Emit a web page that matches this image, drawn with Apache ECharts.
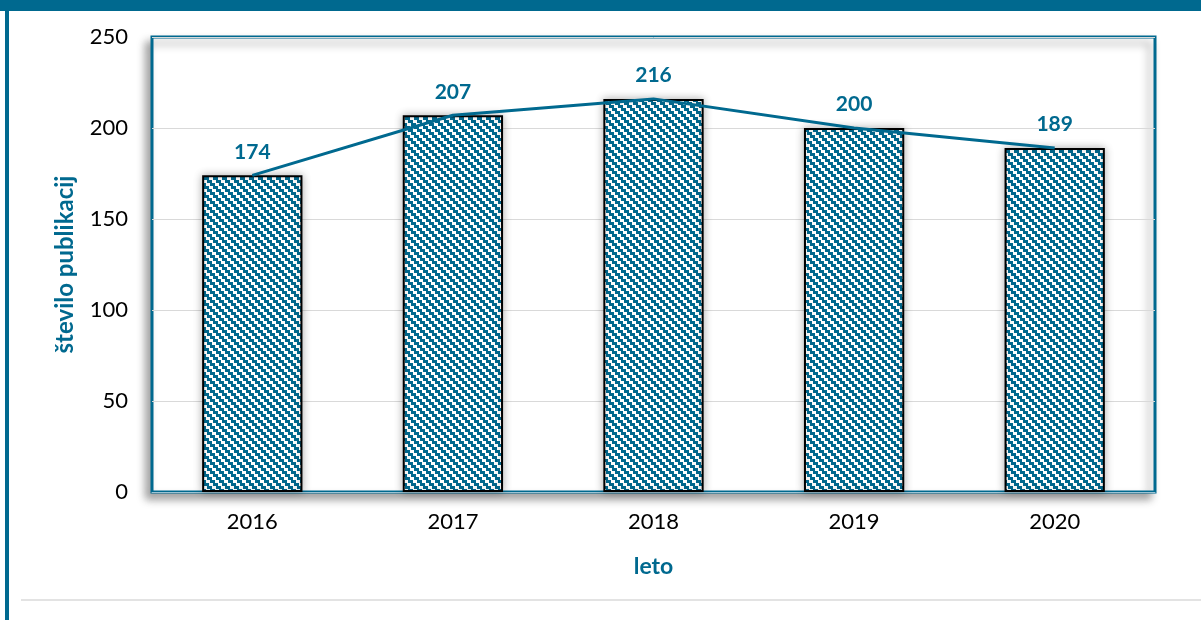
<!DOCTYPE html>
<html><head><meta charset="utf-8">
<script src="https://cdn.jsdelivr.net/npm/echarts@6/dist/echarts.min.js"></script>
<style>html,body{margin:0;padding:0;background:#fff}#c{width:1201px;height:620px}</style>
</head><body><div id="c"></div>
<script>
const categories = ['2016','2017','2018','2019','2020'];
const values = [174, 207, 216, 200, 189];
const yTicks = [0, 50, 100, 150, 200, 250];
const TEAL = '#00698f';

const P = 9, S = 3, H = 3, W = 5;
const pc = document.createElement('canvas');
pc.width = P; pc.height = P;
const g = pc.getContext('2d');
g.fillStyle = '#fff'; g.fillRect(0,0,P,P);
g.fillStyle = TEAL;
for (let y = 0; y < P; y++) {
  const off = S * Math.floor(y / H);
  for (let x = 0; x < P; x++) {
    if ((((x - off) % P) + P) % P < W) g.fillRect(x, y, 1, 1);
  }
}

const chart = echarts.init(document.getElementById('c'));
const font = 'Lato, "Open Sans", sans-serif';
chart.setOption({
  animation: false,
  backgroundColor: '#fff',
  textStyle: { fontFamily: font },
  graphic: [
    { type: 'rect', shape: { x: 0, y: 0, width: 1201, height: 11 }, style: { fill: TEAL }, z: 10 },
    { type: 'rect', shape: { x: 5, y: 0, width: 4, height: 620 }, style: { fill: TEAL }, z: 10 },
    { type: 'rect', shape: { x: 21, y: 599, width: 1180, height: 2 }, style: { fill: '#e3e3e3' }, z: 10 }
  ],
  grid: {
    left: 152, right: 46, top: 37, bottom: 128,
    show: true, backgroundColor: '#fff', borderColor: TEAL, borderWidth: 3,
    shadowColor: 'rgba(0,0,0,0.35)', shadowBlur: 8, shadowOffsetX: -5, shadowOffsetY: 6
  },
  xAxis: {
    type: 'category', data: categories,
    name: 'leto', nameLocation: 'middle', nameGap: 63,
    nameTextStyle: { color: TEAL, fontWeight: 'bold', fontSize: 23, fontFamily: font },
    axisLine: { show: true, lineStyle: { color: '#9cc3d3', width: 1 } },
    axisTick: { show: false },
    axisLabel: { color: '#000', fontSize: 22, margin: 19, fontFamily: font }
  },
  yAxis: {
    type: 'value', min: yTicks[0], max: yTicks[yTicks.length - 1], interval: 50,
    name: 'število publikacij', nameLocation: 'middle', nameGap: 75, nameRotate: 90,
    nameTextStyle: { color: TEAL, fontWeight: 'bold', fontSize: 24, fontFamily: font },
    axisLine: { show: false }, axisTick: { show: false },
    axisLabel: { color: '#000', fontSize: 22, margin: 24, fontFamily: font },
    splitLine: { show: true, lineStyle: { color: '#d9d9d9', width: 1 } }
  },
  series: [
    {
      type: 'bar', data: values, barWidth: '50%',
      itemStyle: {
        color: { image: pc, repeat: 'repeat' },
        borderColor: '#000', borderWidth: 2,
        shadowColor: 'rgba(0,0,0,0.3)', shadowBlur: 8
      },
      label: { show: true, position: 'top', distance: 13, color: TEAL, fontWeight: 'bold', fontSize: 21, fontFamily: font }
    },
    {
      type: 'line', data: values, symbol: 'none', z: 5,
      lineStyle: { color: TEAL, width: 3 }
    }
  ]
});
</script></body></html>
